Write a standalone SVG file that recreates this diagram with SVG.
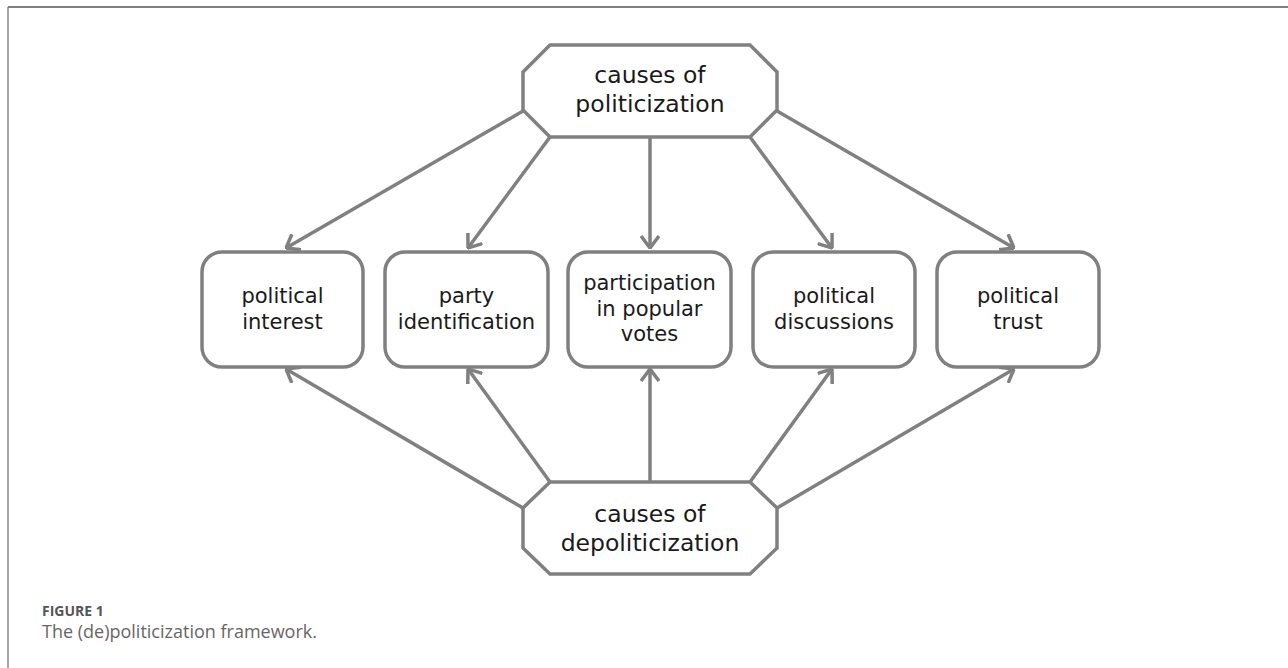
<svg xmlns="http://www.w3.org/2000/svg" width="1288" height="668" viewBox="0 0 1288 668">
<style>
.shape{fill:#fff;stroke:#808080;stroke-width:3.5;stroke-linejoin:miter}
.box{fill:#fff;stroke:#808080;stroke-width:3.5}
.lbl{font-family:"DejaVu Sans","Noto Sans",sans-serif;fill:#1a1a1a;text-anchor:middle}
.big{font-size:23.5px}
.sm{font-size:21px}
.edge{stroke:#808080;stroke-width:3.5;fill:none;marker-end:url(#ah)}
.cap1{font-family:"Open Sans","Noto Sans",sans-serif;font-size:14px;font-weight:bold;fill:#555}
.cap2{font-family:"Open Sans","Noto Sans",sans-serif;font-size:18px;fill:#666}
</style>
<defs>
<marker id="ah" viewBox="0 0 14 20" refX="13" refY="10" markerWidth="14" markerHeight="20" markerUnits="userSpaceOnUse" orient="auto">
<path d="M1,1 L13,10 L1,19" fill="none" stroke="#808080" stroke-width="3.5"/>
</marker>
</defs>
<rect width="1288" height="668" fill="#fff"/>
<g id="frame">
<line x1="8" y1="7" x2="1288" y2="7" stroke="#555" stroke-width="1.5"/>
<line x1="8" y1="7" x2="8" y2="668" stroke="#888" stroke-width="1.5"/>
</g>
<g id="connectors">
<line class="edge" x1="523" y1="111" x2="286" y2="248"/>
<line class="edge" x1="550" y1="137" x2="468" y2="248"/>
<line class="edge" x1="650" y1="137" x2="650" y2="248"/>
<line class="edge" x1="750" y1="137" x2="832" y2="248"/>
<line class="edge" x1="777" y1="111" x2="1014" y2="248"/>
<line class="edge" x1="523" y1="508" x2="286" y2="369"/>
<line class="edge" x1="550" y1="482" x2="468" y2="369"/>
<line class="edge" x1="650" y1="482" x2="650" y2="369"/>
<line class="edge" x1="750" y1="482" x2="832" y2="369"/>
<line class="edge" x1="777" y1="508" x2="1014" y2="369"/>
</g>
<g id="politicization">
<polygon class="shape" points="550,45 750,45 777,72 777,110 750,137 550,137 523,110 523,72"/>
<text class="lbl big" x="650" y="83">causes of<tspan x="650" dy="29">politicization</tspan></text>
</g>
<g id="depoliticization">
<polygon class="shape" points="550,482 750,482 777,508 777,548 750,574 550,574 523,548 523,508"/>
<text class="lbl big" x="650" y="522">causes of<tspan x="650" dy="29">depoliticization</tspan></text>
</g>
<g id="interest">
<rect class="box" x="202" y="252" width="161" height="115" rx="20"/>
<text class="lbl sm" x="282.5" y="303">political<tspan x="282.5" dy="26">interest</tspan></text>
</g>
<g id="party">
<rect class="box" x="385" y="252" width="163" height="115" rx="20"/>
<text class="lbl sm" x="466.5" y="303">party<tspan x="466.5" dy="26">identification</tspan></text>
</g>
<g id="participation">
<rect class="box" x="568" y="252" width="163" height="115" rx="20"/>
<text class="lbl sm" x="649.5" y="290">participation<tspan x="649.5" dy="25.5">in popular</tspan><tspan x="649.5" dy="25.5">votes</tspan></text>
</g>
<g id="discussions">
<rect class="box" x="753" y="252" width="162" height="115" rx="20"/>
<text class="lbl sm" x="834" y="303">political<tspan x="834" dy="26">discussions</tspan></text>
</g>
<g id="trust">
<rect class="box" x="937" y="252" width="162" height="115" rx="20"/>
<text class="lbl sm" x="1018" y="303">political<tspan x="1018" dy="26">trust</tspan></text>
</g>
<g id="caption">
<text class="cap1" x="42" y="616">FIGURE 1</text>
<text class="cap2" x="42" y="638">The (de)politicization framework.</text>
</g>
</svg>
